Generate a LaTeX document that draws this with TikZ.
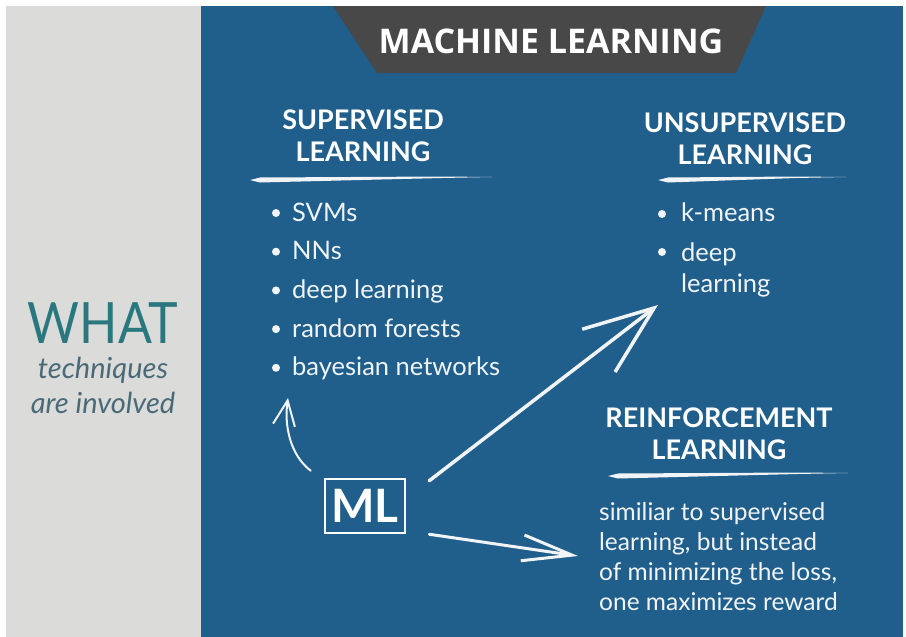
\documentclass[tikz,border=0pt]{standalone}
\usepackage{fontspec}
\setmainfont{Lato}
\newfontfamily\titlefont{Open Sans}
\usetikzlibrary{arrows.meta}

\definecolor{board}{RGB}{32,94,139}
\definecolor{paper}{RGB}{219,219,217}
\definecolor{banner}{RGB}{72,72,72}
\definecolor{whatcol}{RGB}{42,120,127}
\definecolor{askcol}{RGB}{74,106,120}
\definecolor{chalk}{RGB}{240,244,247}

% chalk underline under a heading: left x, right x, y
\newcommand\underbrush[3]{%
  \fill[chalk] (#1,#3) -- (#1+10,#3-2.5) -- (#2-50,#3-3.5) -- (#2,#3-3)
    -- (#2-50,#3-2) -- (#1+10,#3+2.5) -- cycle;}

\begin{document}
\begin{tikzpicture}[x=1pt, y=-1pt,
    heading/.style={text=white, font=\bfseries\fontsize{27}{32}\selectfont,
      align=center, inner sep=0pt, anchor=north},
    item/.style={text=chalk, font=\fontsize{25.5}{31}\selectfont,
      inner sep=0pt, anchor=base west},
    dot/.style={circle, fill=chalk, inner sep=0pt, minimum size=8pt},
    chalkarrow/.style={draw=chalk, line cap=round, line join=round}]
   \useasboundingbox (0,0) rectangle (906,637);
   \fill[white] (0,0) rectangle (906,637);
   \fill[paper] (6,6) rectangle (201,637);
   \fill[board] (201,6) rectangle (903,637);
   \fill[banner] (333,6) -- (766,6) -- (736,73) -- (377,73) -- cycle;
   \node[text=white, font=\titlefont\bfseries\fontsize{34}{34}\selectfont,
     inner sep=0pt, anchor=base] (title) at (551,53) {MACHINE LEARNING};

   % left strip
   \node[text=askcol, font=\itshape\fontsize{29}{35}\selectfont, align=center,
     inner sep=0pt, anchor=north] (what) at (103,302)
     {{\upshape\color{whatcol}\fontsize{57}{57}\selectfont\scalebox{0.88}[1]{WHAT}}\\
      techniques\\are involved};

   % headings
   \node[heading] (sup) at (363,110) {SUPERVISED\\LEARNING};
   \node[heading] (unsup) at (745,113) {UNSUPERVISED\\LEARNING};
   \node[heading] (reinf) at (719,408) {REINFORCEMENT\\LEARNING};
   \underbrush{250}{492}{180}
   \underbrush{658}{846}{180}
   \underbrush{608}{848}{476}

   % lists
   \foreach \t [count=\i] in {SVMs, NNs, deep learning, random forests, bayesian networks} {
     \node[item] (sv\i) at (292, 182.3+38.7*\i) {\t};
     \node[dot] at ([xshift=-16pt, yshift=8pt]sv\i.base west) {};
   }
   \node[item] (km) at (681,221) {k-means};
   \node[dot] at ([xshift=-19pt, yshift=7pt]km.base west) {};
   \node[item, align=left, anchor=north west] (deep) at (681,243) {deep\\learning};
   \node[dot] at ([xshift=-19pt, yshift=-9pt]deep.north west) {};
   \node[item, font=\fontsize{24.5}{30}\selectfont, align=left, anchor=north west]
     (rl) at (599,502) {similiar to supervised\\learning, but instead\\of minimizing the loss,\\one maximizes reward};

   % ML and its arrows
   \node[draw=white, line width=2.5pt, text=white, font=\bfseries\fontsize{46}{46}\selectfont,
     minimum width=80pt, minimum height=54pt] (ml) at (365,506) {ML};
   \coordinate (supend) at (288,398);
   \coordinate (unsupend) at (658,305);
   \coordinate (reinfend) at (578,556);
   \draw[chalkarrow, line width=2pt, -{Straight Barb[length=25pt, width=22pt]}]
     ([shift={(-13,-7)}]ml.north west) .. controls (290,455) and (284,425) .. (supend);
   \draw[chalkarrow, line width=3.5pt, -{Straight Barb[length=70pt, width=54pt]}]
     ([shift={(23,3)}]ml.north east) -- (unsupend);
   \draw[chalkarrow, line width=3pt, -{Straight Barb[length=50pt, width=26pt]}]
     ([shift={(23,0)}]ml.south east) -- (reinfend);
\end{tikzpicture}
\end{document}
